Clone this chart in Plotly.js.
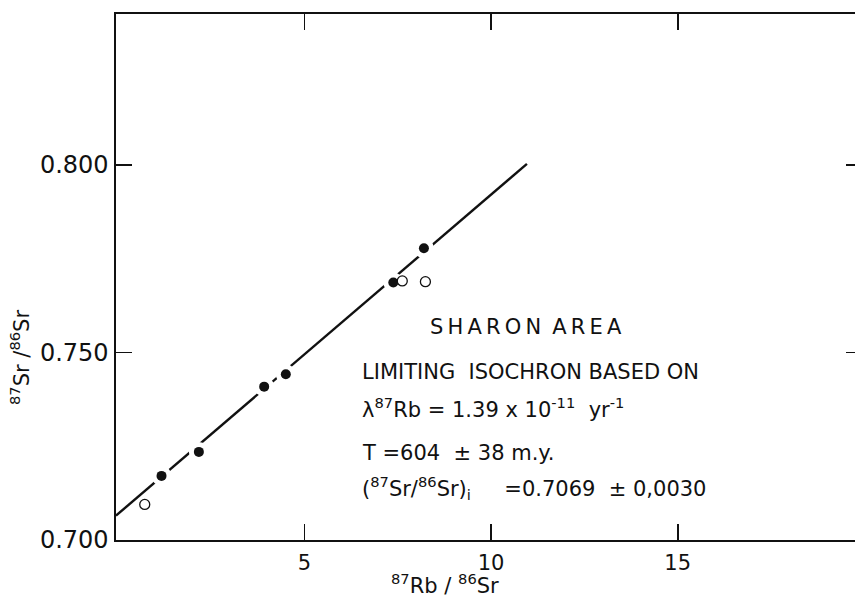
<!DOCTYPE html>
<html>
<head>
<meta charset="utf-8">
<script src="https://cdn.plot.ly/plotly-3.0.1.min.js"></script>
<style>html,body{margin:0;padding:0;background:#fff;overflow:hidden;}</style>
</head>
<body>
<div id="chart" style="width:855px;height:599px;"></div>
<script>
// Data
const filledRb = [1.17, 2.17, 3.92, 4.50, 7.38, 8.20];
const filledSr = [0.7171, 0.7235, 0.7409, 0.7442, 0.7687, 0.7778];
const openRb = [0.72, 7.62, 8.24];
const openSr = [0.7095, 0.7691, 0.7689];
const isochronRb = [-0.05, 10.96];
const isochronSr = [0.7065, 0.8003];
const xTicks = [5, 10, 15];
const yTicks = [0.700, 0.750, 0.800];
const yTickLabels = ['0.700', '0.750', '0.800'];

const FONT = '"DejaVu Sans", "Noto Sans", sans-serif';
const INK = '#111';
const TS = '\u2009'; // thin space for letter spacing

const traces = [
  { x: isochronRb, y: isochronSr, mode: 'lines', line: { color: INK, width: 2.4 },
    hoverinfo: 'skip', showlegend: false },
  // white halo that breaks the line around each filled point
  { x: filledRb, y: filledSr, mode: 'markers', marker: { color: '#fff', size: 20, line: { width: 0 } },
    hoverinfo: 'skip', showlegend: false },
  { x: filledRb, y: filledSr, mode: 'markers', marker: { color: INK, size: 10, line: { width: 0 } },
    showlegend: false },
  { x: openRb, y: openSr, mode: 'markers',
    marker: { color: '#fff', size: 10, symbol: 'circle', line: { color: INK, width: 1.3 } },
    showlegend: false },
  // invisible trace to activate the right-hand tick axis
  { x: [0], y: [0.75], yaxis: 'y2', mode: 'markers', marker: { opacity: 0 }, hoverinfo: 'skip', showlegend: false }
];

const annFont = { family: FONT, size: 21, color: INK };
const spaced = s => s.split('').join(TS);
const layout = {
  width: 855, height: 599,
  margin: { l: 116, r: 0, t: 14, b: 59 },
  paper_bgcolor: '#fff', plot_bgcolor: '#fff',
  showlegend: false, hovermode: false,
  font: { family: FONT, color: INK },
  xaxis: {
    range: [-0.05, 19.75], showgrid: false, zeroline: false,
    showline: true, linecolor: INK, linewidth: 1.6, mirror: 'ticks',
    ticks: 'inside', ticklen: 16, tickwidth: 1.6, tickcolor: INK,
    tickvals: xTicks, ticktext: xTicks.map(String),
    tickfont: { family: FONT, size: 21, color: INK }, ticklabelstandoff: 3
  },
  yaxis: {
    range: [0.700, 0.8403], showgrid: false, zeroline: false,
    showline: true, linecolor: INK, linewidth: 1.6,
    ticks: 'inside', ticklen: 16, tickwidth: 1.6, tickcolor: INK,
    tickvals: yTicks, ticktext: yTickLabels,
    tickfont: { family: FONT, size: 24, color: INK }, ticklabelstandoff: 1
  },
  yaxis2: {
    overlaying: 'y', side: 'right', range: [0.700, 0.8403],
    showgrid: false, zeroline: false, showline: false, showticklabels: false,
    ticks: 'inside', ticklen: 9, tickwidth: 1.6, tickcolor: INK,
    tickvals: [0.750, 0.800]
  },
  annotations: [
    { text: spaced('SHARON') + ' ' + TS + spaced('AREA'), xref: 'x', yref: 'y', x: 8.31, y: 0.7568,
      xanchor: 'left', yanchor: 'middle', showarrow: false, font: annFont },
    { text: 'LIMITING&nbsp;&nbsp;ISOCHRON BASED ON', xref: 'x', yref: 'y', x: 6.49, y: 0.7448,
      xanchor: 'left', yanchor: 'middle', showarrow: false, font: annFont },
    { text: 'λ<sup>87</sup>Rb = 1.39 x 10<sup>-11</sup>&nbsp;&nbsp;yr<sup>-1</sup>', xref: 'x', yref: 'y', x: 6.49, y: 0.7352,
      xanchor: 'left', yanchor: 'middle', showarrow: false, font: annFont },
    { text: 'T =604 &nbsp;± 38 m.y.', xref: 'x', yref: 'y', x: 6.49, y: 0.7232,
      xanchor: 'left', yanchor: 'middle', showarrow: false, font: annFont },
    { text: '(<sup>87</sup>Sr/<sup>86</sup>Sr)<sub>i</sub>&nbsp;&nbsp;&nbsp;&nbsp;&nbsp;=0.7069 &nbsp;± 0,0030', xref: 'x', yref: 'y', x: 6.49, y: 0.7140,
      xanchor: 'left', yanchor: 'middle', showarrow: false, font: annFont },
    { text: '<sup>87</sup>Rb / <sup>86</sup>Sr', xref: 'paper', yref: 'paper',
      x: (445 - 116) / 739, y: -(584 - 540) / 526, xanchor: 'center', yanchor: 'middle',
      showarrow: false, font: { family: FONT, size: 21, color: INK } },
    { text: '<sup>87</sup>Sr /<sup>86</sup>Sr', xref: 'paper', yref: 'paper', textangle: -90,
      x: -(116 - 20) / 739, y: (540 - 358) / 526, xanchor: 'center', yanchor: 'middle',
      showarrow: false, font: { family: FONT, size: 21, color: INK } }
  ]
};

Plotly.newPlot('chart', traces, layout, { staticPlot: true, displayModeBar: false });
</script>
</body>
</html>
